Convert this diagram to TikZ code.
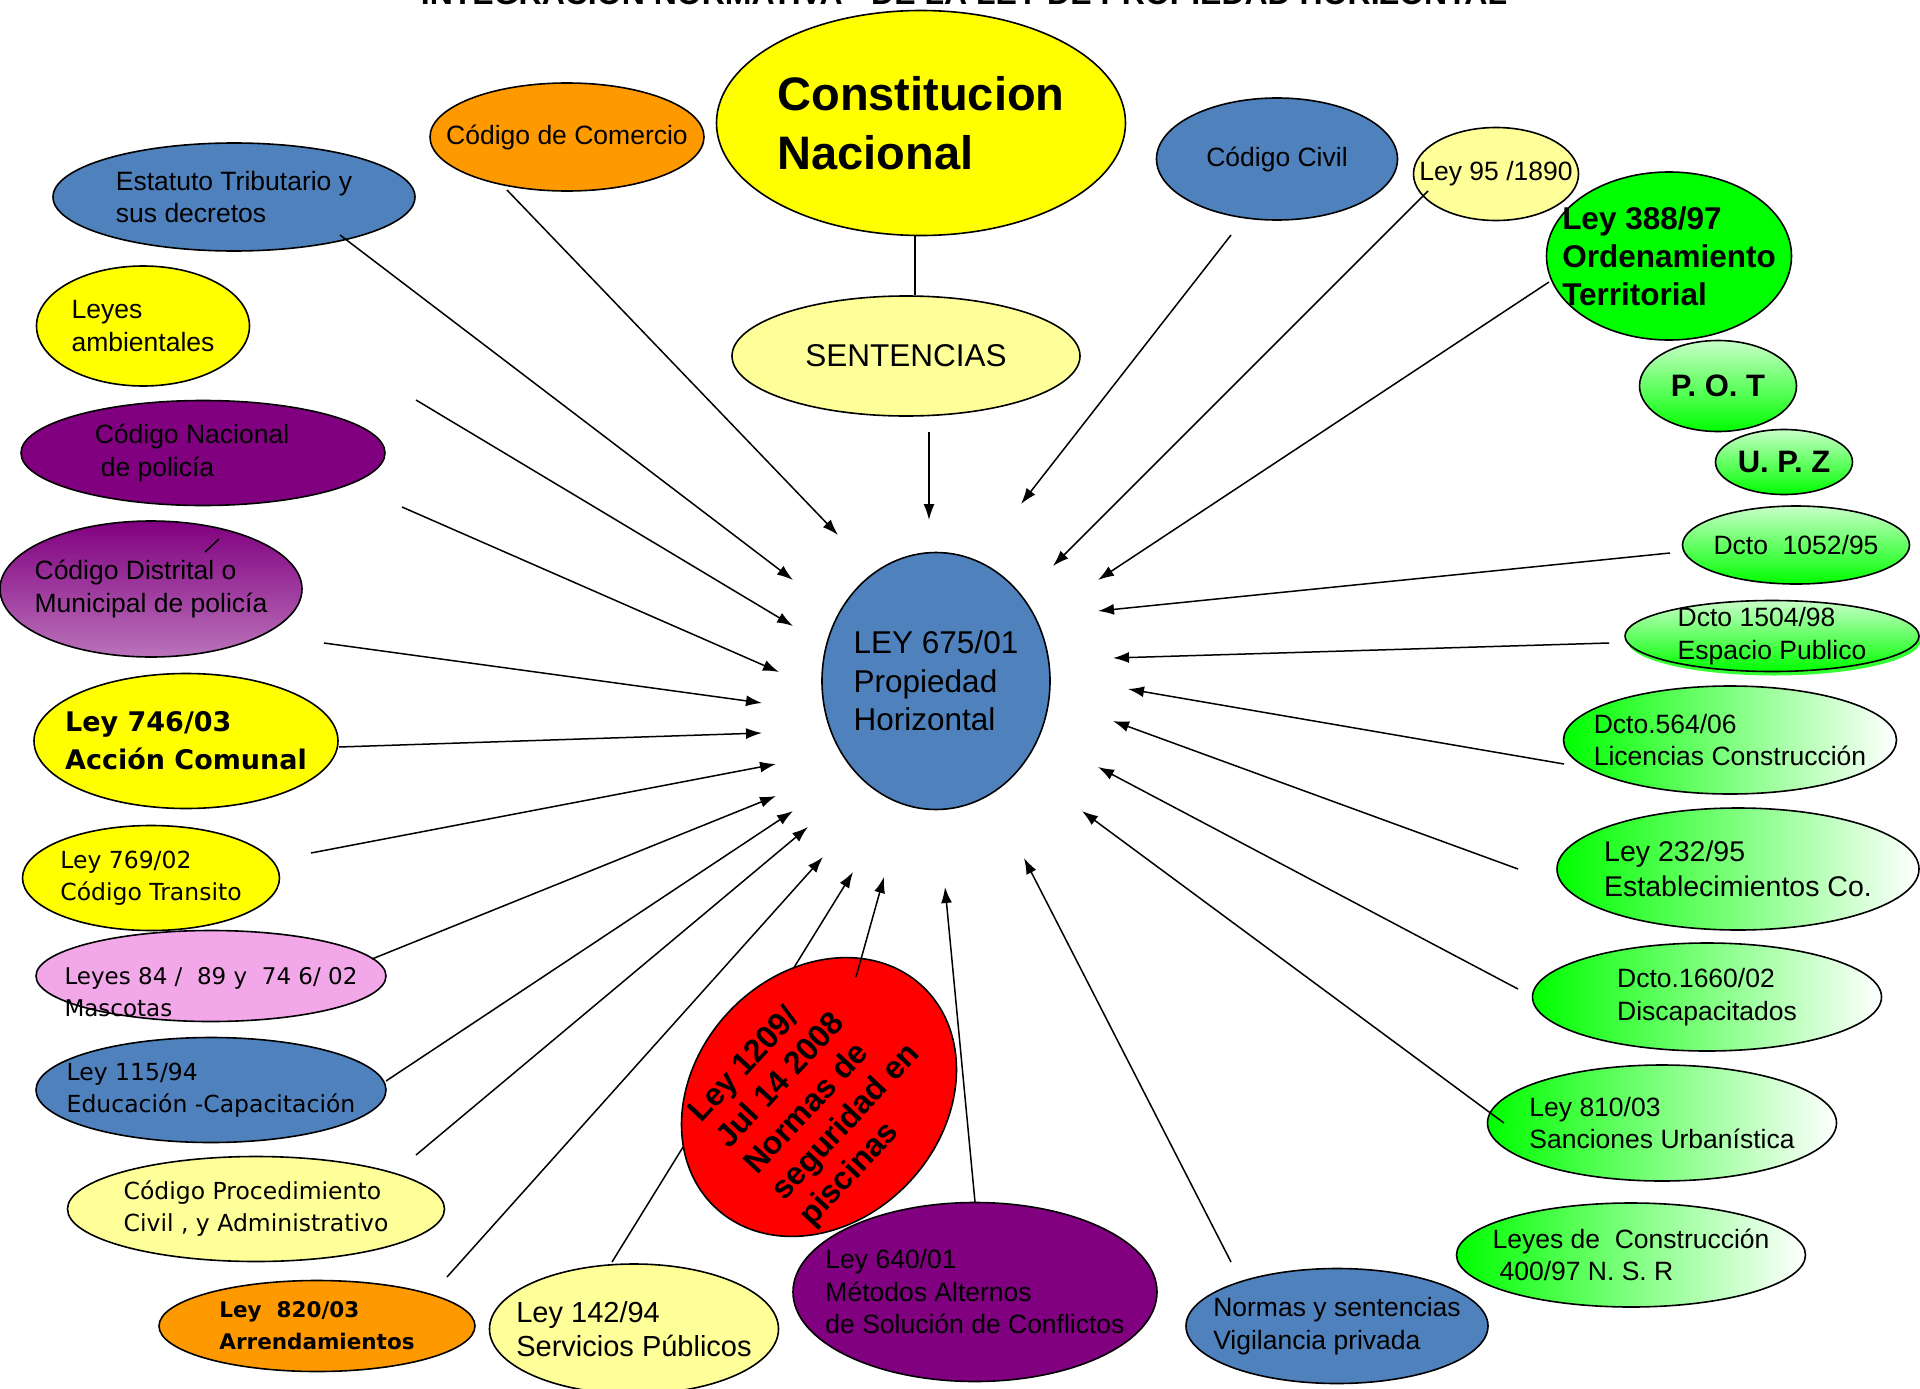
\documentclass[tikz,border=0pt]{standalone}
\usepackage{fontspec}
\setmainfont{Liberation Sans}
\newfontfamily\verdana{DejaVu Sans}
\usetikzlibrary{shapes,arrows.meta,positioning,shadows}

\definecolor{azul}{HTML}{4F81BD}
\definecolor{amarillo}{HTML}{FFFF00}
\definecolor{amarilloclaro}{HTML}{FFFF99}
\definecolor{naranja}{HTML}{FF9900}
\definecolor{morado}{HTML}{800080}
\definecolor{moradoclaro}{HTML}{BA73BA}
\definecolor{rosado}{HTML}{F2A8E8}
\definecolor{verde}{HTML}{00FF00}
\definecolor{verdeclaro}{HTML}{C8FFC8}

\newcommand{\tam}[2]{\fontsize{#1}{#2}\selectfont}

\tikzset{
  ley/.style={ellipse, draw, line width=1.6pt, inner sep=-200pt, align=left},
  normal/.style={font=\tam{26.5}{32.5}},
  ancha/.style={font=\verdana\tam{23.5}{32}},
  degrade/.style={left color=verde, right color=white},
  degradev/.style={top color=verdeclaro, bottom color=verde},
  flecha/.style={line width=1.5pt, -{Latex[length=16pt,width=11pt]}},
}

\begin{document}
\begin{tikzpicture}[x=1pt, y=-1pt]
\useasboundingbox (0,0) rectangle (1920,1389);

%titulo
	\node[anchor=base, font=\bfseries\tam{32}{38}] (titulo) at (964,5) {INTEGRACION NORMATIVA - DE LA LEY DE PROPIEDAD HORIZONTAL};

%arriba
	\node[ley, fill=amarillo, minimum width=409pt, minimum height=225pt, font=\bfseries\tam{47}{59}] (const) at (921,123) {Constitucion\\Nacional};
	\node[ley, normal, fill=naranja, minimum width=274pt, minimum height=108pt] (comercio) at (567,137) {Código de Comercio};
	\node[ley, normal, fill=amarilloclaro, minimum width=348pt, minimum height=120pt, font=\tam{31.5}{38}] (sentencias) at (906,356) {SENTENCIAS};
	\node[ley, normal, fill=azul, minimum width=241pt, minimum height=122pt] (civil) at (1277,159) {Código Civil};
	\node[ley, normal, fill=amarilloclaro, minimum width=165pt, minimum height=93pt] (ley95) at (1496,174) {Ley 95 /1890};

%izquierda
	\node[ley, normal, fill=azul, minimum width=362pt, minimum height=108pt] (estatuto) at (234,197) {Estatuto Tributario y\\sus decretos};
	\node[ley, normal, fill=amarillo, minimum width=213pt, minimum height=120pt] (ambientales) at (143,326) {Leyes\\ambientales};
	\node[ley, normal, fill=morado, minimum width=364pt, minimum height=105pt] (nacional) at (203,453) {Código Nacional\hspace*{22pt}\\\hspace*{6pt}de policía};
	\node[ley, normal, top color=morado, bottom color=moradoclaro, minimum width=302pt, minimum height=136pt] (distrital) at (151,589) {Código Distrital o\\Municipal de policía};
	\node[ley, fill=amarillo, minimum width=304pt, minimum height=135pt, font=\verdana\bfseries\tam{27}{38}] (ley746) at (186,741) {Ley 746/03\\Acción Comunal};
	\node[ley, ancha, fill=amarillo, minimum width=257pt, minimum height=105pt] (ley769) at (151,878) {Ley 769/02\\Código Transito};
	\node[ley, fill=rosado, minimum width=350pt, minimum height=91pt,
		label={[ancha, font=\verdana\tam{23}{32}, align=left, yshift=-16pt]center:{Leyes 84 /\ \ 89 y\ \ 74 6/ 02\\Mascotas}}] (mascotas) at (211,976) {};
	\node[ley, ancha, fill=azul, minimum width=350pt, minimum height=105pt] (ley115) at (211,1090) {Ley 115/94\\Educación -Capacitación};
	\node[ley, ancha, fill=amarilloclaro, minimum width=377pt, minimum height=105pt] (procedimiento) at (256,1209) {Código Procedimiento\\Civil , y Administrativo};
	\node[ley, fill=naranja, minimum width=316pt, minimum height=91pt, font=\verdana\bfseries\tam{21.5}{32}] (ley820) at (317,1326) {Ley\ \ 820/03\\Arrendamientos};

%abajo
	\node[ley, fill=amarilloclaro, minimum width=289pt, minimum height=130pt, font=\tam{29}{34.5}] (ley142) at (634,1329) {Ley 142/94\\Servicios Públicos};
	\node[ley, normal, fill=azul, minimum width=302pt, minimum height=115pt] (vigilancia) at (1337,1326) {Normas y sentencias\\Vigilancia privada};

%derecha
	\node[ley, normal, degrade, minimum width=349pt, minimum height=104pt] (construccion) at (1631,1255) {Leyes de\ \ Construcción\\\hspace*{7pt}400/97 N. S. R};
	\node[ley, normal, degrade, minimum width=349pt, minimum height=116pt] (ley810) at (1662,1123) {Ley 810/03\\Sanciones Urbanística};
	\node[ley, normal, degrade, minimum width=349pt, minimum height=108pt] (dcto1660) at (1707,997) {Dcto.1660/02\\Discapacitados};
	\node[ley, degrade, minimum width=362pt, minimum height=122pt, font=\tam{28.5}{34.5}] (ley232) at (1738,869) {Ley 232/95\\Establecimientos Co.};
	\node[ley, normal, degrade, minimum width=333pt, minimum height=108pt] (dcto564) at (1730,740) {Dcto.564/06\\Licencias Construcción};
	\node[ley, normal, degradev, minimum width=294pt, minimum height=71pt,
		drop shadow={fill=verde!80!white, opacity=1, shadow xshift=2pt, shadow yshift=-4pt}] (dcto1504) at (1772,636) {Dcto 1504/98\\Espacio Publico};
	\node[ley, normal, degradev, minimum width=227pt, minimum height=78pt] (dcto1052) at (1796,545) {Dcto\ \ 1052/95};
	\node[ley, degradev, minimum width=137pt, minimum height=65pt, font=\bfseries\tam{31}{38}] (upz) at (1784,462) {U. P. Z};
	\node[ley, degradev, minimum width=157pt, minimum height=91pt, font=\bfseries\tam{31}{38}] (pot) at (1718,386) {P. O. T};
	\node[ley, fill=verde, minimum width=245pt, minimum height=168pt, font=\bfseries\tam{31.5}{38}] (ley388) at (1669,256) {Ley 388/97\\Ordenamiento\\Territorial};

%centro
	\node[ley, fill=azul, minimum width=228pt, minimum height=257pt, font=\tam{31.5}{38.5}] (ph) at (936,681) {LEY 675/01\\Propiedad\\Horizontal};

%lineas
	\draw[line width=1.5pt] (const.267) -- (const.267 |- sentencias.north);
	\coordinate (sal-ley142) at (612,1262);
	\coordinate (lle-ley142) at (853,872);
	\draw[flecha] (sal-ley142) -- (lle-ley142);

	\node[ley, fill=red, rotate=47, minimum width=303pt, minimum height=248pt, font=\bfseries\tam{32}{37.8}] (piscinas) at (819,1097) {Ley 1209/\\Jul 14 2008\\Normas de\\seguridad en\\piscinas};
	\node[ley, normal, fill=morado, minimum width=364pt, minimum height=179pt] (ley640) at (975,1292) {Ley 640/01\\Métodos Alternos\\de Solución de Conflictos};

%flechas al centro
	\foreach \xa/\ya/\xb/\yb/\nombre in {929/432/929/520/sentencias, 507/190/838/535/comercio,
		340/235/793/580/estatuto, 416/400/793/626/ambientales, 402/507/779/672/nacional,
		324/643/762/703/distrital, 339/747/762/733/ley746, 311/853/776/764/ley769,
		372/959/776/796/mascotas, 386/1081/793/811/ley115, 416/1155/808/827/procedimiento,
		447/1277/823/857/ley820, 856/977/884/877/piscinas, 975/1202/945/887/ley640,
		1231/1262/1024/858/vigilancia, 1504/1123/1082/811/ley810, 1518/989/1098/767/dcto1660,
		1518/869/1113/721/ley232, 1564/764/1128/689/dcto564, 1609/643/1113/658/dcto1504,
		1670/553/1098/611/dcto1052, 1549/282/1098/580/ley388, 1428/191/1053/566/ley95,
		1231/235/1021/504/civil}{
		\coordinate (sal-\nombre) at (\xa,\ya);
		\coordinate (lle-\nombre) at (\xb,\yb);
		\draw[flecha] (sal-\nombre) -- (lle-\nombre);
	}

%trazo suelto
	\coordinate (t1) at (205,552);
	\coordinate (t2) at (219,539);
	\draw[line width=1.5pt] (t1) -- (t2);

\end{tikzpicture}
\end{document}
